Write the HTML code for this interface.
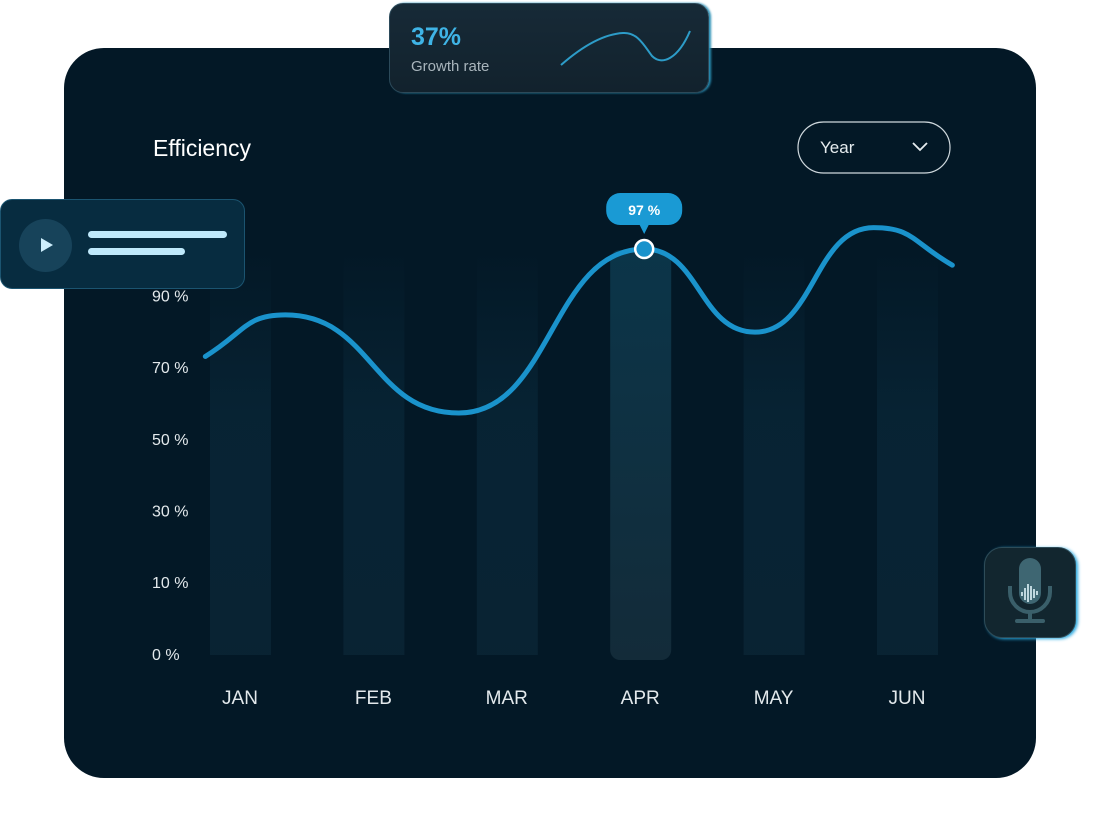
<!DOCTYPE html>
<html><head><meta charset="utf-8"><style>
html,body{margin:0;padding:0;background:#fff;}
body{width:1100px;height:826px;position:relative;overflow:hidden;font-family:"Liberation Sans",sans-serif;}
.card{position:absolute;left:64px;top:48px;width:972px;height:730px;border-radius:40px;background:#031826;}
svg{position:absolute;left:0;top:0;}
.growth{position:absolute;left:389px;top:3px;width:318px;height:88px;border-radius:14px;background:linear-gradient(180deg,#172a37,#12222d);border:1px solid #2c4a5a;box-shadow:2px 0 2px #2a8fb5;}
.side{position:absolute;left:0;top:199px;width:243px;height:88px;border-radius:12px;background:#072c40;border:1px solid #1b5470;}
.mic{position:absolute;left:984px;top:547px;width:90px;height:89px;border-radius:18px;background:#12262f;border:1px solid #2e4c58;box-shadow:2px 1px 3px #2aa9e0;}
</style></head><body>
<div class="card"></div>
<svg width="1100" height="826" id="chart">
<defs>
<linearGradient id="bar" x1="0" y1="0" x2="0" y2="1"><stop offset="0" stop-color="#0a2a3c" stop-opacity="0"/><stop offset="0.4" stop-color="#0a2a3c" stop-opacity="0.6"/><stop offset="1" stop-color="#0a2434" stop-opacity="0.9"/></linearGradient>
<linearGradient id="barA" x1="0" y1="0" x2="0" y2="1"><stop offset="0" stop-color="#0b3549"/><stop offset="1" stop-color="#132b39"/></linearGradient>
</defs>
<text x="153" y="156" fill="#fff" font-size="23">Efficiency</text>
<g><rect x="798" y="122" width="152" height="51" rx="25.5" fill="none" stroke="#cfd8dd" stroke-width="1.2"/><text x="820" y="153" fill="#e6ecef" font-size="17">Year</text><path d="M913 143 l7 7 l7 -7" fill="none" stroke="#e6ecef" stroke-width="1.8"/></g>
<g id="bars"></g><g id="yaxis"></g><g id="xaxis"></g><g id="line"></g>
</svg>
<div class="growth">
<div style="position:absolute;left:21px;top:19px;color:#3fb4e6;font-size:25px;font-weight:bold;">37%</div>
<div style="position:absolute;left:21px;top:54px;color:#a9b5bc;font-size:15px;">Growth rate</div>
<svg width="318" height="88" style="position:absolute;left:0;top:0"><path d="M171 61 C195 40 215 30 233 29 C248 28 255 43 262 52 C272 62 288 55 300 27" fill="none" stroke="#2d9cc8" stroke-width="2"/></svg>
</div>
<div class="side">
<div style="position:absolute;left:18px;top:19px;width:53px;height:53px;border-radius:50%;background:#17435a;"><div style="position:absolute;left:22px;top:19px;width:0;height:0;border-left:12px solid #cdeefc;border-top:7px solid transparent;border-bottom:7px solid transparent;"></div></div>
<div style="position:absolute;left:87px;top:31px;width:139px;height:7px;border-radius:4px;background:#bfe9fb;"></div>
<div style="position:absolute;left:87px;top:48px;width:97px;height:7px;border-radius:4px;background:#bfe9fb;"></div>
</div>
<div class="mic">
<svg width="90" height="89" style="position:absolute;left:0;top:0"><rect x="34" y="10" width="22" height="46" rx="11" fill="#3e6672"/><path d="M25 38 v6 a20 20 0 0 0 40 0 v-6" fill="none" stroke="#3a5f6a" stroke-width="4"/><line x1="45" y1="64" x2="45" y2="72" stroke="#3a5f6a" stroke-width="4"/><line x1="32" y1="73" x2="58" y2="73" stroke="#3a5f6a" stroke-width="4" stroke-linecap="round"/><path d="M37 44 v4 M40 40 v12 M43 36 v18 M46 38 v14 M49 41 v9 M52 43 v4" stroke="#dff3f9" stroke-width="1.6"/></svg>
</div>
<script>
const months=["JAN","FEB","MAR","APR","MAY","JUN"];
const yTicks=[0,10,30,50,70,90];
const tickLabels=["0 %","10 %","30 %","50 %","70 %","90 %"];
// curve turning points: fractional month index and value (%)
const curveIdx=[-0.26,0.34,1.64,3.03,3.86,4.75,5.34];
const curveVal=[73,84.6,57.2,103,79.8,109,98.5];
const highlightIdx=3;
const highlightLabel="97 %";
const NS="http://www.w3.org/2000/svg";
const x=i=>240+i*133.4;
const y=v=>v<=10?654-v*7.2:582-(v-10)*3.58;
function mk(t,a,p){const e=document.createElementNS(NS,t);for(const k in a)e.setAttribute(k,a[k]);p.appendChild(e);return e;}
const bars=document.getElementById('bars'),ya=document.getElementById('yaxis'),xa=document.getElementById('xaxis'),ln=document.getElementById('line');
months.forEach((m,i)=>{
 const hl=i===highlightIdx;
 const r=mk('rect',{x:x(i)-30,y:250,width:61,height:hl?410:405,rx:hl?10:0,fill:hl?'url(#barA)':'url(#bar)'},bars);
 
 
 const t=mk('text',{x:x(i),y:704,fill:'#e3e9ec','font-size':19,'text-anchor':'middle'},xa);t.textContent=m;
 
 
});
yTicks.forEach((v,i)=>{const t=mk('text',{x:152,y:y(v)+6,fill:'#e3e9ec','font-size':16},ya);t.textContent=tickLabels[i];
 
 });
const n=curveIdx.length;
let d='M'+x(curveIdx[0])+' '+y(curveVal[0]);
for(let k=1;k<n;k++){const x0=x(curveIdx[k-1]),x1=x(curveIdx[k]),y0=y(curveVal[k-1]),y1=y(curveVal[k]),h=(x1-x0)/2;
 let c1y=y0,c2y=y1;
 if(k===1)c1y=y0+(y1-y0)*0.6;
 if(k===n-1)c2y=y1+(y0-y1)*0.6;
 d+=` C${x0+h} ${c1y} ${x1-h} ${c2y} ${x1} ${y1}`;}
const p=mk('path',{d:d,fill:'none',stroke:'#1a93cc','stroke-width':5,'stroke-linecap':'round'},ln);


const hx=x(curveIdx[highlightIdx]),hy=y(curveVal[highlightIdx]);
const c=mk('circle',{cx:hx,cy:hy,r:9,fill:'#1a93cc',stroke:'#fff','stroke-width':2.5},ln);


const tg=mk('g',{},ln);


mk('rect',{x:hx-38,y:hy-56,width:76,height:32,rx:14,fill:'#1a9ad4'},tg);
mk('path',{d:`M${hx-5} ${hy-25} L${hx} ${hy-15} L${hx+5} ${hy-25}Z`,fill:'#1a9ad4'},tg);
const tt=mk('text',{x:hx,y:hy-34,fill:'#fff','font-size':14,'font-weight':'bold','text-anchor':'middle'},tg);tt.textContent=highlightLabel;
</script>
</body></html>
